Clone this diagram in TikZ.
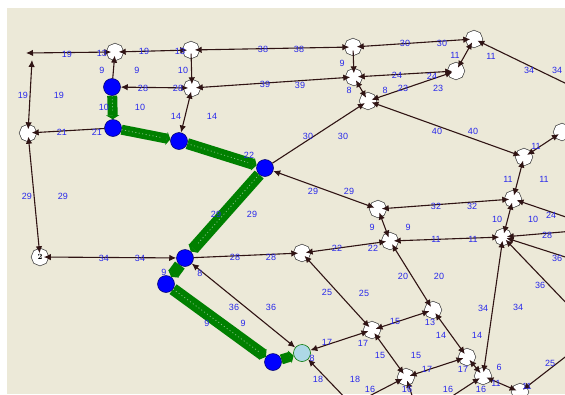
\documentclass[tikz,border=0pt]{standalone}
\usepackage{fontspec}
\newfontfamily\lblfont{Liberation Sans}
\usetikzlibrary{arrows.meta}
\pgfdeclarelayer{bg}
\pgfdeclarelayer{route}
\pgfsetlayers{bg,route,main}
\definecolor{panel}{HTML}{ECE9D8}
\definecolor{ink}{HTML}{301414}
\definecolor{lbl}{RGB}{40,40,235}
\definecolor{routegreen}{HTML}{008000}
\definecolor{stop}{HTML}{0000FF}
\definecolor{goal}{HTML}{ADD8E6}
\tikzset{
  % small core circle, so links end well inside the white disc;
  % the disc itself comes from two wide strokes of the core
  junction/.style={circle, minimum size=7pt, inner sep=0pt, fill=white,
    preaction={draw=black!75, line width=10.4pt},
    preaction={draw=white, line width=9pt}},
  visited/.style={circle, minimum size=17pt, inner sep=0pt, fill=stop,
    draw=black!60!blue, line width=0.5pt},
  target/.style={circle, minimum size=17pt, inner sep=0pt, fill=goal,
    draw=black!55!green, line width=0.6pt},
  link/.style={draw=ink, line width=1.1pt, >={Latex[length=7pt,width=6.5pt]}},
  route/.style={draw=routegreen, line width=#1,
    -{Triangle[length=4pt,width=13pt]}},
  route/.default=12pt,
  routedots/.style={draw=white, line width=0.8pt, dash pattern=on 1pt off 2.5pt,
    opacity=0.5, shorten >=9pt},
  w/.style={text=lbl, font=\lblfont\fontsize{9}{9}\selectfont, inner sep=0pt},
}
\begin{document}
\begin{tikzpicture}[x=1pt,y=-1pt]
\useasboundingbox (0,0) rectangle (565,394);
\clip (0,0) rectangle (565,394);
\begin{pgfonlayer}{bg}
  \fill[white] (0,0) rectangle (565,394);
  \fill[panel] (7,8) rectangle (565,394);
\end{pgfonlayer}

% free ends of links
\coordinate (cA) at (26,53);
\coordinate (cB) at (32,60);
\coordinate (f1) at (602,101);
\coordinate (f2) at (607,231);
\coordinate (f3) at (609,228);
\coordinate (f4) at (640,281);
\coordinate (f5) at (595,333);
\coordinate (f6) at (600,330);
\coordinate (nbot) at (352,405);
\coordinate (f9) at (431,410);
\coordinate (f10) at (420,420);

% junctions
\node[junction] (n13a) at (115,52) {};
\node[junction] (n13b) at (191,50) {};
\node[junction] (na) at (353,47) {};
\node[junction] (nb) at (474,39) {};
\node[junction] (nc) at (354,77) {};
\node[junction] (nd) at (456,71) {};
\node[junction] (ne) at (368,101) {};
\node[junction] (n20) at (192,88) {};
\node[junction] (L1) at (28,133) {};
\node[junction] (N2) at (40,257) {\textbf{\footnotesize 2}};
\node[junction] (nr) at (562,132) {};
\node[junction] (nf) at (524,157) {};
\node[junction] (ng) at (513,199) {};
\node[junction] (nh) at (378,209) {};
\node[junction] (ni) at (390,241) {};
\node[junction] (nj) at (302,253) {};
\node[junction] (nk) at (503,237) {};
\node[junction] (nl) at (372,330) {};
\node[junction] (nm) at (433,310) {};
\node[junction] (nn) at (467,357) {};
\node[junction] (no) at (406,377) {};
\node[junction] (np) at (483,376) {};
\node[junction] (nq) at (520,392) {};

% nodes on the found path
\node[visited] (B1) at (112,87) {};
\node[visited] (B2) at (113,128) {};
\node[visited] (B3) at (179,141) {};
\node[visited] (B4) at (265,168) {};
\node[visited] (B5) at (185,258) {};
\node[visited] (B6) at (166,284) {};
\node[visited] (B7) at (273,362) {};
\node[target] (LB) at (302,353) {};

% the found path
\begin{pgfonlayer}{route}
  \draw[route=10pt] (B1) -- (B2);
  \draw[route=10pt] (B2) -- (B3);
  \draw[route=11pt] (B3) -- (B4);
  \draw[route] (B4) -- (B5);
  \draw[route] (B5) -- (B6);
  \draw[route] (B6) -- (B7);
  \draw[route=10pt] (B7) -- (LB);
  \foreach \a/\b in {B1/B2,B2/B3,B3/B4,B4/B5,B6/B7}
    \draw[routedots] (\a) -- (\b);
\end{pgfonlayer}

% links
\draw[link,<->] (cA) -- (n13a);
\draw[link,<->] (n13a) -- (n13b);
\draw[link,<->] (n13b) -- (na);
\draw[link,<->] (na) -- (nb);
\draw[link,->] (na) -- (nc);
\draw[link,->] (n13b) -- (n20);
\draw[link,->] (B1) -- (n13a);
\draw[link,<->] (B1) -- (n20);
\draw[link,<->] (n20) -- (nc);
\draw[link,<->] (nc) -- (nd);
\draw[link,<->] (nc) -- (ne);
\draw[link,<->] (ne) -- (nd);
\draw[link,<->] (nb) -- (nd);
\draw[link,<-] (nb) -- (f1);
\draw[link,<->] (ne) -- (nf);
\draw[link,<->] (nf) -- (nr);
\draw[link,<->] (B3) -- (n20);
\draw[link,->] (B4) -- (ne);
\draw[link,<->] (B4) -- (nh);
\draw[link,<->] (cB) -- (L1);
\draw[link,->] (B2) -- (L1);
\draw[link,<->] (L1) -- (N2);
\draw[link,<->] (N2) -- (B5);
\draw[link,->] (B5) -- (nj);
\draw[link,<->] (nj) -- (ni);
\draw[link,<->] (ni) -- (nk);
\draw[link,<->] (nh) -- (ni);
\draw[link,<->] (nh) -- (ng);
\draw[link,<->] (ng) -- (nf);
\draw[link,<->] (ng) -- (nk);
\draw[link,->] (f2) -- (ng);
\draw[link,->] (f3) -- (nk);
\draw[link,->] (f4) -- (nk);
\draw[link,->] (f5) -- (nk);
\draw[link,<->] (nk) -- (np);
\draw[link,<->] (B5) -- (LB);
\draw[link,<->] (nj) -- (nl);
\draw[link,<->] (ni) -- (nm);
\draw[link,<->] (nl) -- (nm);
\draw[link,<->] (nl) -- (no);
\draw[link,<->] (nm) -- (nn);
\draw[link,<->] (nn) -- (no);
\draw[link,<->] (nn) -- (np);
\draw[link,<->] (np) -- (nq);
\draw[link,<->] (LB) -- (nl);
\draw[link,->] (nbot) -- (LB);
\draw[link,<->] (no) -- (nbot);
\draw[link,<->] (np) -- (f9);
\draw[link,<->] (no) -- (f10);
\draw[link,->] (f6) -- (nq);

% link weights
\foreach \t/\x/\y in {
  19/67/54, 13/102/53, 19/144/51, 13/180/51,
  38/263/49, 38/299/49, 30/405/43, 30/442/43,
  9/102/70, 9/137/70, 10/183/70, 9/342/63,
  11/455/55, 11/491/56, 34/529/70, 34/557/70,
  19/23/95, 19/59/95, 28/143/88, 28/178/88,
  39/265/84, 39/300/85, 24/397/75, 24/432/76,
  8/349/90, 8/385/90, 23/403/88, 23/438/88,
  10/104/107, 10/140/107, 14/176/116, 14/212/116,
  21/62/132, 21/97/132, 30/308/136, 30/343/136,
  40/437/131, 40/473/131, 11/536/146, 22/249/155,
  11/508/179, 11/544/179, 29/313/191, 29/349/191,
  29/27/196, 29/63/196, 32/436/206, 32/472/206,
  29/216/214, 29/252/214, 24/551/215, 10/497/219, 10/533/219,
  9/372/227, 9/408/227, 28/547/235, 11/436/239, 11/473/239,
  22/337/248, 22/373/248, 28/235/257, 28/271/257,
  34/104/258, 34/140/258, 36/557/258,
  9/164/272, 8/200/273, 20/403/276, 20/439/276, 36/540/285,
  25/327/292, 25/364/293, 36/234/307, 36/271/307,
  34/483/308, 34/518/307, 15/395/321, 13/430/322,
  9/207/323, 9/243/323, 14/441/335, 14/477/335,
  17/327/342, 17/363/343, 15/380/355, 15/416/355,
  8/312/358, 25/550/363, 17/427/369, 17/463/369, 6/499/367,
  18/318/379, 18/355/379, 11/496/383, 11/527/386,
  16/370/389, 16/407/389, 16/448/389, 16/481/389}
  \node[w] at (\x,\y) {\t};
\end{tikzpicture}
\end{document}
